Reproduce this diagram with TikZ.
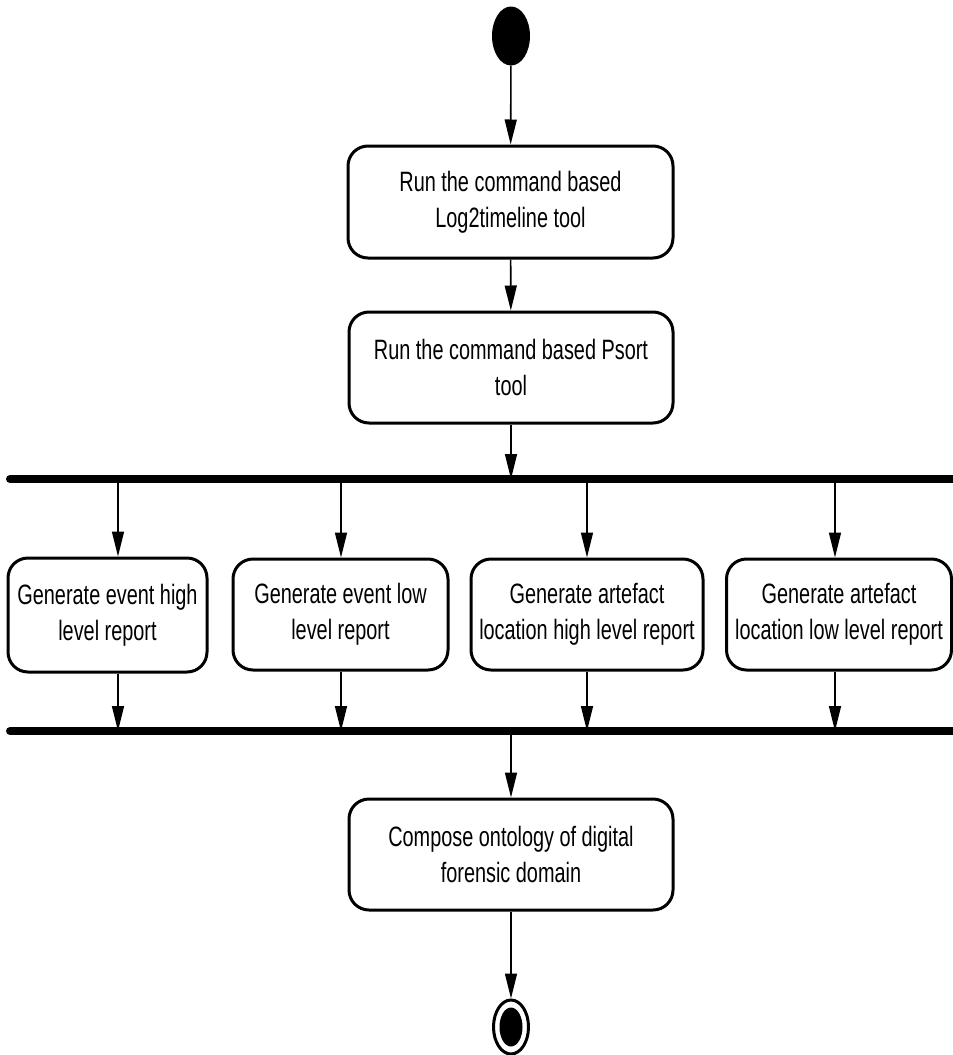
\documentclass[tikz,border=0pt]{standalone}
\usepackage{fontspec}
\setmainfont[FakeStretch=0.71]{Liberation Sans}
\usetikzlibrary{arrows.meta,shapes.geometric}

\tikzset{
  action/.style={draw, rectangle, rounded corners=20pt, line width=3pt,
    align=center, inner sep=0pt, font=\fontsize{28}{36}\selectfont},
  flow/.style={draw, line width=1.6pt, -{Triangle[length=25pt,width=12pt]}},
  syncbar/.style={draw, line width=8pt, line cap=round},
  initial/.style={ellipse, fill=black, inner sep=0pt,
    minimum width=38pt, minimum height=59pt},
  finalring/.style={ellipse, draw, line width=3pt, inner sep=0pt,
    minimum width=35pt, minimum height=54pt},
  finaldot/.style={ellipse, fill=black, inner sep=0pt,
    minimum width=23pt, minimum height=39pt},
}

\begin{document}
\begin{tikzpicture}[x=1pt, y=-1pt]
  \useasboundingbox (0,0) rectangle (953,1055);

  % start node
  \node[initial] (start) at (511,36) {};

  % sequential steps
  \node[action, minimum width=325pt, minimum height=112pt] (log2t) at (510.5,202)
    {Run the command based\\Log2timeline tool};
  \node[action, minimum width=324pt, minimum height=111pt] (psort) at (511,367.5)
    {Run the command based Psort\\tool};

  % fork and join bars
  \coordinate (forkL) at (10,479);
  \coordinate (forkR) at (958,479);
  \coordinate (joinL) at (10,731);
  \coordinate (joinR) at (958,731);

  % parallel report steps
  \node[action, minimum width=199pt, minimum height=114pt] (evhigh) at (107.5,615)
    {Generate event high\\level report};
  \node[action, minimum width=215pt, minimum height=111pt] (evlow) at (340.5,614.5)
    {Generate event low\\level report};
  \node[action, minimum width=232pt, minimum height=111pt] (arthigh) at (587,614.5)
    {Generate artefact\\location high level report};
  \node[action, minimum width=225pt, minimum height=111pt] (artlow) at (839,614.5)
    {Generate artefact\\location low level report};

  % branch positions on the bars
  \coordinate (xa) at (118,0);
  \coordinate (xb) at (341,0);
  \coordinate (xc) at (587,0);
  \coordinate (xd) at (835,0);

  % final step and end node
  \node[action, minimum width=324pt, minimum height=111pt] (onto) at (511,854.5)
    {Compose ontology of digital\\forensic domain};
  \node[finalring] (stop) at (511,1027) {};
  \node[finaldot] (stopdot) at (511,1027) {};

  % bars
  \draw[syncbar] (forkL) -- (forkR);
  \draw[syncbar] (joinL) -- (joinR);

  % control flow
  \draw[flow] (start) -- (log2t);
  \draw[flow] (log2t) -- (psort);
  \draw[flow] (psort.south) -- (psort.south |- forkL);

  \draw[flow] (xa |- forkL) -- (xa |- evhigh.north);
  \draw[flow] (xb |- forkL) -- (xb |- evlow.north);
  \draw[flow] (xc |- forkL) -- (xc |- arthigh.north);
  \draw[flow] (xd |- forkL) -- (xd |- artlow.north);

  \draw[flow] (xa |- evhigh.south) -- (xa |- joinL);
  \draw[flow] (xb |- evlow.south) -- (xb |- joinL);
  \draw[flow] (xc |- arthigh.south) -- (xc |- joinL);
  \draw[flow] (xd |- artlow.south) -- (xd |- joinL);

  \draw[flow] (onto.north |- joinL) -- (onto.north);
  \draw[flow] (onto.south) -- (stop.north);
\end{tikzpicture}
\end{document}
